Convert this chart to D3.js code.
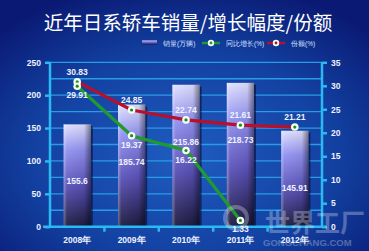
<!DOCTYPE html>
<html>
<head>
<meta charset="utf-8">
<script src="https://cdn.jsdelivr.net/npm/d3@7"></script>
<style>
  html, body { margin: 0; padding: 0; background: #0b1d78; }
  svg { display: block; }
</style>
</head>
<body>
<div id="chart"></div>
<script>
const years = ["2008年", "2009年", "2010年", "2011年", "2012年"];
const sales = [155.6, 185.74, 215.86, 218.73, 145.91];
const growth = [29.91, 19.37, 16.22, 1.33];
const share = [30.83, 24.85, 22.74, 21.61, 21.21];
const leftTicks = [0, 50, 100, 150, 200, 250];
const rightTicks = [0, 5, 10, 15, 20, 25, 30, 35];
const gridValues = [25, 50, 75, 100, 125, 150, 175, 200, 225, 250];

const W = 369, H = 251;
const margin = {top: 62.3, right: 47, bottom: 24.3, left: 50};
const svg = d3.select("#chart").append("svg")
    .attr("width", W).attr("height", H)
    .style("font-family", "'Liberation Sans', Arial, sans-serif");

const defs = svg.append("defs");
const bg = defs.append("radialGradient").attr("id", "bg")
    .attr("cx", "50%").attr("cy", "62%").attr("r", "70%");
bg.append("stop").attr("offset", "0%").attr("stop-color", "#1f5cc0");
bg.append("stop").attr("offset", "60%").attr("stop-color", "#1240a0");
bg.append("stop").attr("offset", "100%").attr("stop-color", "#0a1a74");

const barGrad = defs.append("linearGradient").attr("id", "barGrad")
    .attr("x1", 0).attr("y1", 0).attr("x2", 0).attr("y2", 1);
barGrad.append("stop").attr("offset", "0%").attr("stop-color", "#e0e0ff");
barGrad.append("stop").attr("offset", "25%").attr("stop-color", "#9292f0");
barGrad.append("stop").attr("offset", "60%").attr("stop-color", "#5a52b8");
barGrad.append("stop").attr("offset", "100%").attr("stop-color", "#1c1a3e");

const barShade = defs.append("linearGradient").attr("id", "barShade")
    .attr("x1", 0).attr("y1", 0).attr("x2", 1).attr("y2", 0);
barShade.append("stop").attr("offset", "0%").attr("stop-color", "#ffffff").attr("stop-opacity", 0.35);
barShade.append("stop").attr("offset", "12%").attr("stop-color", "#ffffff").attr("stop-opacity", 0.05);
barShade.append("stop").attr("offset", "75%").attr("stop-color", "#000000").attr("stop-opacity", 0.05);
barShade.append("stop").attr("offset", "100%").attr("stop-color", "#000000").attr("stop-opacity", 0.45);

svg.append("rect").attr("width", W).attr("height", H).attr("fill", "url(#bg)");

// title
svg.append("text")
    .attr("x", 188).attr("y", 30)
    .attr("text-anchor", "middle")
    .attr("fill", "#ffffff")
    .style("font-family", "'Noto Sans CJK SC', sans-serif")
    .style("font-size", "19.5px")
    .text("近年日系轿车销量/增长幅度/份额");

// scales
const x = d3.scaleBand()
    .domain(years)
    .range([margin.left, W - margin.right])
    .paddingInner(0.5)
    .paddingOuter(0.25);
const y = d3.scaleLinear().domain([0, 250]).range([H - margin.bottom, margin.top]);
const y2 = d3.scaleLinear().domain([0, 35]).range([H - margin.bottom, margin.top]);

// grid
svg.append("g").selectAll("line")
    .data(gridValues)
    .join("line")
    .attr("x1", margin.left).attr("x2", W - margin.right)
    .attr("y1", d => y(d)).attr("y2", d => y(d))
    .attr("stroke", "#2a9be6").attr("stroke-width", 1.3);

// bars
const bars = svg.append("g");
bars.selectAll("rect.shadow")
    .data(sales)
    .join("rect")
    .attr("class", "shadow")
    .attr("x", (d, i) => x(years[i]) + 2)
    .attr("y", d => y(d) + 2)
    .attr("width", x.bandwidth())
    .attr("height", d => y(0) - y(d) - 2)
    .attr("fill", "#050a30").attr("opacity", 0.6);
bars.selectAll("rect.bar")
    .data(sales)
    .join("rect")
    .attr("class", "bar")
    .attr("x", (d, i) => x(years[i]))
    .attr("y", d => y(d))
    .attr("width", x.bandwidth())
    .attr("height", d => y(0) - y(d))
    .attr("fill", "url(#barGrad)");
bars.selectAll("rect.shade")
    .data(sales)
    .join("rect")
    .attr("class", "shade")
    .attr("x", (d, i) => x(years[i]))
    .attr("y", d => y(d))
    .attr("width", x.bandwidth())
    .attr("height", d => y(0) - y(d))
    .attr("fill", "url(#barShade)");
bars.selectAll("text")
    .data(sales)
    .join("text")
    .attr("x", (d, i) => x(years[i]) + x.bandwidth() / 2)
    .attr("y", d => y(d) + 60)
    .attr("text-anchor", "middle")
    .attr("fill", "#eef2ff")
    .style("font-size", "8.5px").style("font-weight", "bold")
    .text(d => d);

// axes
const axisColor = "#2cb8f2";
const gx = svg.append("g")
    .attr("transform", `translate(0,${y(0)})`)
    .call(d3.axisBottom(x).tickSize(0).tickPadding(10));
gx.select(".domain").attr("d", `M${margin.left - 7},0H${W - margin.right + 4}`)
    .attr("stroke", axisColor).attr("stroke-width", 2.5);
gx.selectAll("text").attr("fill", "#eef2ff")
    .style("font-size", "8.5px").style("font-weight", "bold");
// category separator ticks
svg.append("g").selectAll("line")
    .data(years.slice(1))
    .join("line")
    .attr("x1", d => x(d) - x.step() * x.paddingInner() / 2)
    .attr("x2", d => x(d) - x.step() * x.paddingInner() / 2)
    .attr("y1", y(0)).attr("y2", y(0) + 5)
    .attr("stroke", axisColor).attr("stroke-width", 2.5);

const gl = svg.append("g")
    .attr("transform", `translate(${margin.left},0)`)
    .call(d3.axisLeft(y).tickValues(leftTicks).tickSize(5).tickPadding(4));
gl.select(".domain").attr("stroke", axisColor).attr("stroke-width", 2.5)
    .attr("d", `M0,${y(0)}V${y(250)}`);
gl.selectAll(".tick line").attr("stroke", axisColor).attr("stroke-width", 2.5);
gl.selectAll("text").attr("fill", "#eef2ff")
    .style("font-size", "8.5px").style("font-weight", "bold");

const gr = svg.append("g")
    .attr("transform", `translate(${W - margin.right},0)`)
    .call(d3.axisRight(y2).tickValues(rightTicks).tickSize(5).tickPadding(4));
gr.select(".domain").attr("stroke", axisColor).attr("stroke-width", 2.5)
    .attr("d", `M0,${y2(0)}V${y2(35)}`);
gr.selectAll(".tick line").attr("stroke", axisColor).attr("stroke-width", 2.5);
gr.selectAll("text").attr("fill", "#eef2ff")
    .style("font-size", "8.5px").style("font-weight", "bold");

// lines
const cx = i => x(years[i]) + x.bandwidth() / 2;
const lineGen = d3.line().x((d, i) => cx(i)).y(d => y2(d));

function drawSeries(data, color, labelDy) {
    const g = svg.append("g");
    g.append("path").datum(data)
        .attr("fill", "none").attr("stroke", color)
        .attr("stroke-width", 3.2).attr("d", lineGen);
    g.selectAll("circle.o").data(data).join("circle").attr("class", "o")
        .attr("cx", (d, i) => cx(i)).attr("cy", d => y2(d))
        .attr("r", 3.8).attr("fill", "#f4fff0");
    g.selectAll("circle.i").data(data).join("circle").attr("class", "i")
        .attr("cx", (d, i) => cx(i)).attr("cy", d => y2(d))
        .attr("r", 1.6).attr("fill", "#1f8a2a");
    g.selectAll("text").data(data).join("text")
        .attr("x", (d, i) => cx(i)).attr("y", d => y2(d) + labelDy)
        .attr("text-anchor", "middle").attr("fill", "#eef2ff")
        .style("font-size", "8.5px").style("font-weight", "bold")
        .text(d => d);
}
drawSeries(share, "#b8102a", -7);
drawSeries(growth, "#1e9a2e", 12);

// legend
const legend = svg.append("g").attr("transform", "translate(142,43)");
legend.append("rect").attr("x", 0).attr("y", -2.5).attr("width", 15).attr("height", 4)
    .attr("fill", "url(#barGrad)");
legend.append("text").attr("x", 21).attr("y", 2.5).attr("fill", "#d8e0ff")
    .style("font-size", "6.5px").text("销量(万辆)");
const legItems = [
    {x: 60, color: "#1e9a2e", label: "同比增长(%)"},
    {x: 125, color: "#b8102a", label: "份额(%)"}
];
legItems.forEach(it => {
    legend.append("line").attr("x1", it.x).attr("x2", it.x + 18)
        .attr("y1", 0).attr("y2", 0).attr("stroke", it.color).attr("stroke-width", 2.5);
    legend.append("circle").attr("cx", it.x + 9).attr("cy", 0).attr("r", 3.2).attr("fill", "#f4fff0");
    legend.append("circle").attr("cx", it.x + 9).attr("cy", 0).attr("r", 1.4).attr("fill", it.color);
    legend.append("text").attr("x", it.x + 24).attr("y", 2.5).attr("fill", "#d8e0ff")
        .style("font-size", "6.5px").text(it.label);
});

// watermark
const wm = svg.append("g").attr("opacity", 0.28).attr("fill", "#ffffff");
wm.append("circle").attr("cx", 236).attr("cy", 218).attr("r", 11)
    .attr("fill", "none").attr("stroke", "#ffffff").attr("stroke-width", 4);
wm.append("text").attr("x", 265).attr("y", 232)
    .style("font-family", "'Noto Sans CJK SC', sans-serif")
    .style("font-size", "25px").style("font-weight", "bold").text("世界工厂");
wm.append("text").attr("x", 263).attr("y", 246)
    .style("font-size", "9.5px").style("font-weight", "bold").text("GONGCHANG.COM");
</script>
</body>
</html>
